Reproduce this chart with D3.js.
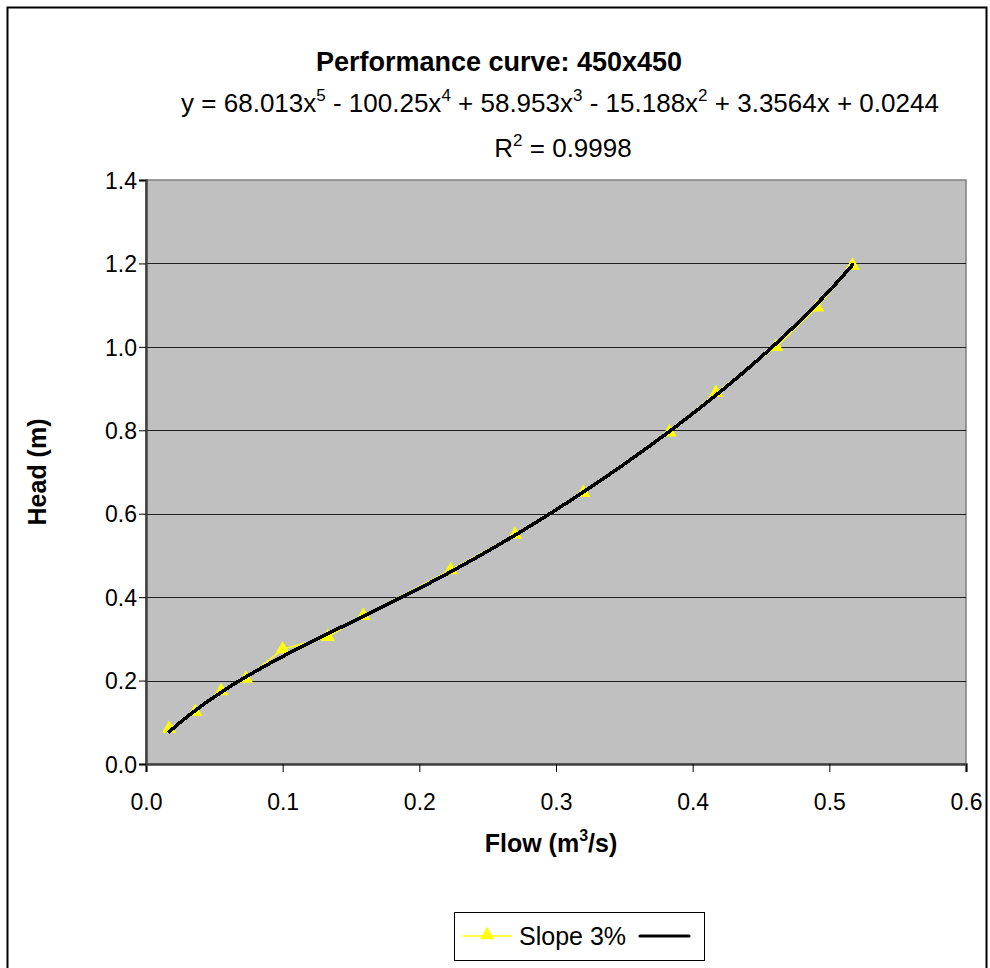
<!DOCTYPE html>
<html>
<head>
<meta charset="utf-8">
<script src="https://cdn.jsdelivr.net/npm/d3@7"></script>
<style>
  html, body { margin: 0; padding: 0; background: #ffffff; }
  svg { display: block; font-family: "Liberation Sans", Arial, sans-serif; }
</style>
</head>
<body>
<svg id="chart" width="990" height="968"></svg>
<script>
// Measured flow (m3/s) and head (m) for slope 3%
const flow = [0.017, 0.036, 0.055, 0.073, 0.100, 0.133, 0.159, 0.223, 0.270, 0.320, 0.383, 0.417, 0.461, 0.491, 0.517];
const head = [0.085, 0.125, 0.175, 0.205, 0.275, 0.305, 0.355, 0.465, 0.550, 0.650, 0.795, 0.890, 1.000, 1.095, 1.195];

// 5th order polynomial trendline coefficients, highest power first
const trendCoeffs = [68.013, -100.25, 58.953, -15.188, 3.3564, 0.0244];
const rSquared = "0.9998";

const xTicks = [0, 0.1, 0.2, 0.3, 0.4, 0.5, 0.6];
const yTicks = [0, 0.2, 0.4, 0.6, 0.8, 1.0, 1.2, 1.4];

const titleText = "Performance curve: 450x450";
const yTitle = "Head (m)";
const seriesName = "Slope 3%";

const svg = d3.select("#chart");

const plot = { left: 146, top: 180, right: 966, bottom: 764 };

const x = d3.scaleLinear().domain([0, 0.6]).range([plot.left, plot.right]);
const y = d3.scaleLinear().domain([0, 1.4]).range([plot.bottom, plot.top]);

// Chart area border
svg.append("rect")
  .attr("x", 7.5).attr("y", 7.5)
  .attr("width", 979).attr("height", 975)
  .attr("fill", "#ffffff")
  .attr("stroke", "#000000").attr("stroke-width", 2);

// Plot area
svg.append("rect")
  .attr("x", plot.left).attr("y", plot.top)
  .attr("width", plot.right - plot.left).attr("height", plot.bottom - plot.top)
  .attr("fill", "#c0c0c0")
  .attr("stroke", "#808080").attr("stroke-width", 1.5);

// Horizontal gridlines
svg.append("g")
  .selectAll("line")
  .data(yTicks.filter(d => d > 0 && d < 1.4))
  .join("line")
  .attr("x1", plot.left).attr("x2", plot.right)
  .attr("y1", d => Math.round(y(d)) + 0.5).attr("y2", d => Math.round(y(d)) + 0.5)
  .attr("stroke", "#202020").attr("stroke-width", 1.2);

// Axes
const fmt = d3.format(".1f");
const xAxis = svg.append("g")
  .attr("transform", `translate(0,${plot.bottom})`)
  .call(d3.axisBottom(x).tickValues(xTicks).tickFormat(fmt).tickSize(8).tickPadding(18));
const yAxis = svg.append("g")
  .attr("transform", `translate(${plot.left},0)`)
  .call(d3.axisLeft(y).tickValues(yTicks).tickFormat(fmt).tickSize(7).tickPadding(2));

[xAxis, yAxis].forEach(g => {
  g.select(".domain").attr("stroke", "#404040").attr("stroke-width", 2.5);
  g.selectAll(".tick line").attr("stroke", "#000000").attr("stroke-width", 1);
  g.selectAll(".tick text")
    .attr("fill", "#000000")
    .style("font-size", "23px")
    .style("font-family", "'Liberation Sans', Arial, sans-serif");
});
yAxis.selectAll(".tick text").attr("dy", "0.36em");
xAxis.selectAll(".tick text").attr("dy", "0.85em");

// Series line and triangle markers
const points = flow.map((f, i) => [f, head[i]]);
svg.append("path")
  .datum(points)
  .attr("fill", "none")
  .attr("stroke", "#ffff00")
  .attr("stroke-width", 1.5)
  .attr("d", d3.line().x(d => x(d[0])).y(d => y(d[1])));

const tri = d3.symbol().type(d3.symbolTriangle).size(90);
svg.append("g")
  .selectAll("path")
  .data(points)
  .join("path")
  .attr("transform", d => `translate(${x(d[0])},${y(d[1])})`)
  .attr("d", tri)
  .attr("fill", "#ffff00");

// Polynomial trendline over the measured flow range
const poly = v => trendCoeffs.reduce((acc, c) => acc * v + c, 0);
const trendX = d3.range(0, 121).map(i => d3.min(flow) + (d3.max(flow) - d3.min(flow)) * i / 120);
svg.append("path")
  .datum(trendX)
  .attr("fill", "none")
  .attr("stroke", "#000000")
  .attr("stroke-width", 3.6)
  .attr("stroke-linejoin", "round")
  .attr("stroke-linecap", "round")
  .attr("shape-rendering", "crispEdges")
  .attr("d", d3.line().x(d => x(d)).y(d => y(poly(d))));

// Text with superscript runs: parts are [text, isSuperscript]
function richText(sel, parts, supSize) {
  let raised = false;
  parts.forEach(([t, sup]) => {
    const span = sel.append("tspan").text(t);
    if (sup && !raised) { span.attr("dy", -11); raised = true; }
    else if (!sup && raised) { span.attr("dy", 11); raised = false; }
    if (sup) span.style("font-size", supSize);
  });
}

// Title
svg.append("text")
  .attr("x", 499).attr("y", 71)
  .attr("text-anchor", "middle")
  .style("font-size", "27px").style("font-weight", "bold")
  .text(titleText);

// Trendline equation
const eqParts = [["y = ", false]];
trendCoeffs.forEach((c, i) => {
  const pow = trendCoeffs.length - 1 - i;
  const sign = c < 0 ? "-" : "+";
  let body = (i > 0 ? ` ${sign} ` : "") + Math.abs(c).toString();
  if (pow >= 1) body += "x";
  eqParts.push([body, false]);
  if (pow >= 2) eqParts.push([String(pow), true]);
});
const eq = svg.append("text")
  .attr("x", 560).attr("y", 112)
  .attr("text-anchor", "middle")
  .style("font-size", "26px");
richText(eq, eqParts, "17px");

const r2 = svg.append("text")
  .attr("x", 563).attr("y", 157)
  .attr("text-anchor", "middle")
  .style("font-size", "26px");
richText(r2, [["R", false], ["2", true], [" = " + rSquared, false]], "17px");

// Axis titles
const xt = svg.append("text")
  .attr("x", 551).attr("y", 852)
  .attr("text-anchor", "middle")
  .style("font-size", "25px").style("font-weight", "bold");
richText(xt, [["Flow (m", false], ["3", true], ["/s)", false]], "16px");

svg.append("text")
  .attr("transform", "translate(46,472) rotate(-90)")
  .attr("text-anchor", "middle")
  .style("font-size", "25px").style("font-weight", "bold")
  .text(yTitle);

// Legend
const lg = svg.append("g");
lg.append("rect")
  .attr("x", 454.5).attr("y", 912.5)
  .attr("width", 250).attr("height", 48)
  .attr("fill", "#ffffff").attr("stroke", "#000000").attr("stroke-width", 1);
lg.append("line")
  .attr("x1", 463).attr("x2", 512).attr("y1", 936).attr("y2", 936)
  .attr("stroke", "#ffff00").attr("stroke-width", 1.5);
lg.append("path")
  .attr("transform", "translate(487,935)")
  .attr("d", tri).attr("fill", "#ffff00");
lg.append("text")
  .attr("x", 519).attr("y", 945)
  .style("font-size", "25px")
  .text(seriesName);
lg.append("line")
  .attr("x1", 640).attr("x2", 689).attr("y1", 936).attr("y2", 936)
  .attr("stroke", "#000000").attr("stroke-width", 3.2).attr("stroke-linecap", "round");
</script>
</body>
</html>
